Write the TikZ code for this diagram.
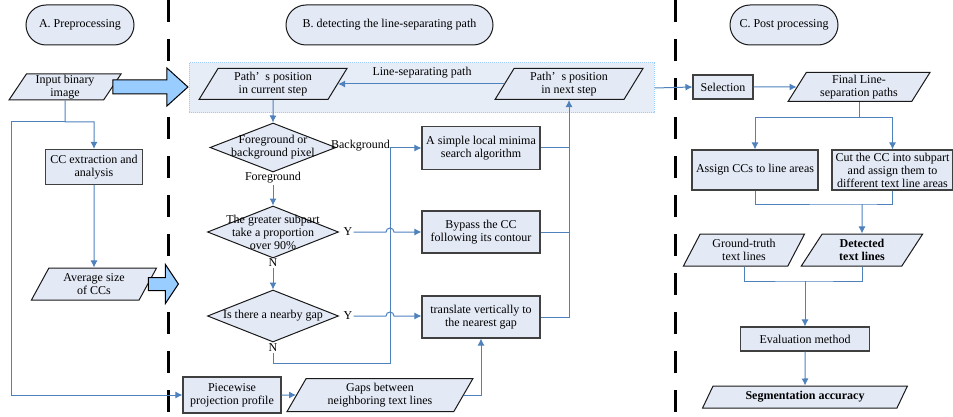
\documentclass[tikz,border=0pt]{standalone}
\usepackage{fontspec}
\setmainfont{Liberation Serif}
\usetikzlibrary{shapes, shapes.geometric, arrows.meta}

\definecolor{boxFill}{HTML}{E3E9F5}
\definecolor{regionFill}{HTML}{E7EDF7}
\definecolor{flowBlue}{HTML}{4F81BD}
\definecolor{arrowBlue}{HTML}{99CCFF}

\begin{document}
\begin{tikzpicture}[
    x=1pt, y=-1pt,
    every node/.style={
        text centered,
        font={\fontsize{12}{13}\selectfont},
        inner sep=1pt
        },
    procBox/.style={rectangle, draw=black!75, line width=1.1pt, fill=boxFill, align=center},
    dataBox/.style={trapezium, trapezium left angle=62, trapezium right angle=118,
        trapezium stretches=true, draw=black!90, line width=1pt, fill=boxFill, align=center},
    decisionBox/.style={diamond, draw=black!90, line width=1pt, fill=boxFill},
    headerBox/.style={draw=black!90, line width=1pt, fill=boxFill, rounded corners=20pt,
        minimum height=40pt},
    flowLine/.style={draw=flowBlue, line width=1pt},
    sepLine/.style={line width=3pt, dash pattern=on 22pt off 17pt},
    bigArrow/.style={draw=black, line width=1pt, fill=arrowBlue},
    >={Latex[length=7pt, width=7pt]}
    ]
    \useasboundingbox (0,0) rectangle (953,417);

    % column separators
    \draw[sepLine] (168,0) -- (168,417);
    \draw[sepLine] (675,0) -- (675,417);

    % headers
    \node[headerBox, minimum width=108pt] (hdrA) at (80,25) {A. Preprocessing};
    \node[headerBox, minimum width=207pt] (hdrB) at (389.5,25) {B. detecting the line-separating path};
    \node[headerBox, minimum width=108pt] (hdrC) at (784,25) {C. Post processing};

    % A. preprocessing
    \node[dataBox, minimum width=113pt, minimum height=26pt] (inImg) at (65,87) {Input binary\\image};
    \node[procBox, minimum width=97pt, minimum height=35pt] (ccExt) at (94,167) {CC extraction and\\analysis};
    \node[dataBox, minimum width=126pt, minimum height=32pt] (avgSize) at (94,284) {Average size\\of CCs};
    \node[procBox, minimum width=98pt, minimum height=36pt] (piecewise) at (232,395) {Piecewise\\projection profile};
    \coordinate (split) at (65,122);
    \coordinate (leftTurn) at (11,122);

    % B. line-separating path
    \node[draw=arrowBlue, dash pattern=on 1pt off 1pt, line width=1pt, fill=regionFill,
        minimum width=465pt, minimum height=50pt] (pathRegion) at (421.5,88) {};
    \node[dataBox, minimum width=148pt, minimum height=31pt] (curStep) at (273,84) {Path’\ \ s position\\in current step};
    \node[dataBox, minimum width=148pt, minimum height=31pt] (nextStep) at (569,84) {Path’\ \ s position\\in next step};
    \node (lspLbl) at (422,73) {Line-separating path};

    \node[decisionBox, minimum width=126pt, minimum height=49pt,
        label={[name=fgbgText, align=center]center:{Foreground or\\background pixel}}] (fgbg) at (273,147.5) {};
    \node[decisionBox, minimum width=131pt, minimum height=52pt,
        label={[name=subpartText, align=center]center:{The greater subpart\\take a proportion\\over 90\%}}] (subpart) at (273,232) {};
    \node[decisionBox, minimum width=131pt, minimum height=52pt,
        label={[name=gapText]center:{Is there a nearby gap}}] (gap) at (273,316) {};

    \node[anchor=east] (bgLbl) at (391,146) {Background};
    \node (fgLbl) at (273,178) {Foreground};
    \node (ySub) at (348,232) {Y};
    \node (nSub) at (273,263) {N};
    \node (yGap) at (348,316) {Y};
    \node (nGap) at (273,348) {N};

    \node[procBox, minimum width=118pt, minimum height=43pt] (localMin) at (481,148) {A simple local minima\\search algorithm};
    \node[procBox, minimum width=118pt, minimum height=42pt] (bypass) at (481,232) {Bypass the CC\\following its contour};
    \node[procBox, minimum width=118pt, minimum height=42pt] (translate) at (481,317) {translate vertically to\\the nearest gap};
    \node[dataBox, minimum width=186pt, minimum height=33pt] (gapsLines) at (380,395) {Gaps between\\neighboring text lines};
    \coordinate (bgJoin) at (390,148);
    \coordinate (nJoin) at (390,363);

    % C. post processing
    \node[procBox, minimum width=60pt, minimum height=24pt] (selection) at (723,87) {Selection};
    \node[dataBox, minimum width=142pt, minimum height=29pt] (finalPaths) at (859,87) {Final Line-\\separation paths};
    \node[procBox, minimum width=126pt, minimum height=40pt] (assignCC) at (755,170) {Assign CCs to line areas};
    \node[procBox, minimum width=121pt, minimum height=40pt, inner sep=0pt] (cutCC) at (892.5,170) {Cut the CC into subpart\\and assign them to\\different text line areas};
    \node[dataBox, minimum width=122pt, minimum height=32pt] (groundTruth) at (744,250) {Ground-truth\\text lines};
    \node[dataBox, minimum width=122pt, minimum height=32pt, font={\fontsize{12}{13}\selectfont\bfseries}] (detected) at (862,250) {Detected\\text lines};
    \node[procBox, minimum width=129pt, minimum height=24pt] (evalMethod) at (805,339) {Evaluation method};
    \node[dataBox, minimum width=205pt, minimum height=22pt, font={\fontsize{12}{13}\selectfont\bfseries}] (segAcc) at (805,397) {Segmentation accuracy};
    \coordinate (cutJoin) at (862,204);
    \coordinate (truthJoin) at (805,281);

    % big arrows
    \draw[bigArrow] (inImg.east) ++(0,-7) -- ++(54,0) -- ++(0,-12) -- ++(21,19) -- ++(-21,19) -- ++(0,-12) -- ++(-54,0) -- cycle;
    \draw[bigArrow] (avgSize.east) ++(0,-6.5) -- ++(17,0) -- ++(0,-13) -- ++(13,19.5) -- ++(-13,19.5) -- ++(0,-13) -- ++(-17,0) -- cycle;

    % connectors A
    \draw[flowLine, ->] (inImg.south) -- (split) -| (ccExt.north);
    \draw[flowLine, ->] (split) -- (leftTurn) |- (piecewise.west);
    \draw[flowLine, ->] (ccExt.south) -- (avgSize.north);

    % connectors B
    \draw[flowLine, ->] (nextStep.west) -- (curStep.east);
    \draw[flowLine, ->] (curStep.south) -- (fgbg.north);
    \draw[flowLine, ->] (fgLbl.south) -- (subpart.north);
    \draw[flowLine, ->] (nSub.south) -- (gap.north);
    \draw[flowLine, ->] (bgJoin) -- (localMin.west);
    \draw[flowLine] (nGap.south) |- (nJoin) -- (bgJoin);
    \draw[flowLine, ->] (ySub.east) -- (386,232) arc (180:360:4) -- (bypass.west);
    \draw[flowLine, ->] (yGap.east) -- (386,316) arc (180:360:4) -- (yGap.east -| translate.west);
    \draw[flowLine] (localMin.east) -- (localMin.east -| nextStep.south);
    \draw[flowLine] (bypass.east) -- (bypass.east -| nextStep.south);
    \draw[flowLine, ->] (translate.east) -| (nextStep.south);
    \draw[flowLine, ->] (piecewise.east) -- (gapsLines.west);
    \draw[flowLine, ->] (gapsLines.east) -| (translate.south);
    \draw[flowLine, ->] (pathRegion.east) -- (selection.west);

    % connectors C
    \draw[flowLine, ->] (selection.east) -- (finalPaths.west);
    \draw[flowLine, ->] (finalPaths.south) -- ++(0,15) -| (assignCC.north);
    \draw[flowLine, ->] (finalPaths.south) -- ++(0,15) -| (cutCC.north);
    \draw[flowLine] (assignCC.south) |- (cutJoin) -| (cutCC.south);
    \draw[flowLine, ->] (cutJoin) -- (detected.north);
    \draw[flowLine] (groundTruth.south) |- (truthJoin) -| (detected.south);
    \draw[flowLine, ->] (truthJoin) -- (evalMethod.north);
    \draw[flowLine, ->] (evalMethod.south) -- (segAcc.north);
\end{tikzpicture}
\end{document}
